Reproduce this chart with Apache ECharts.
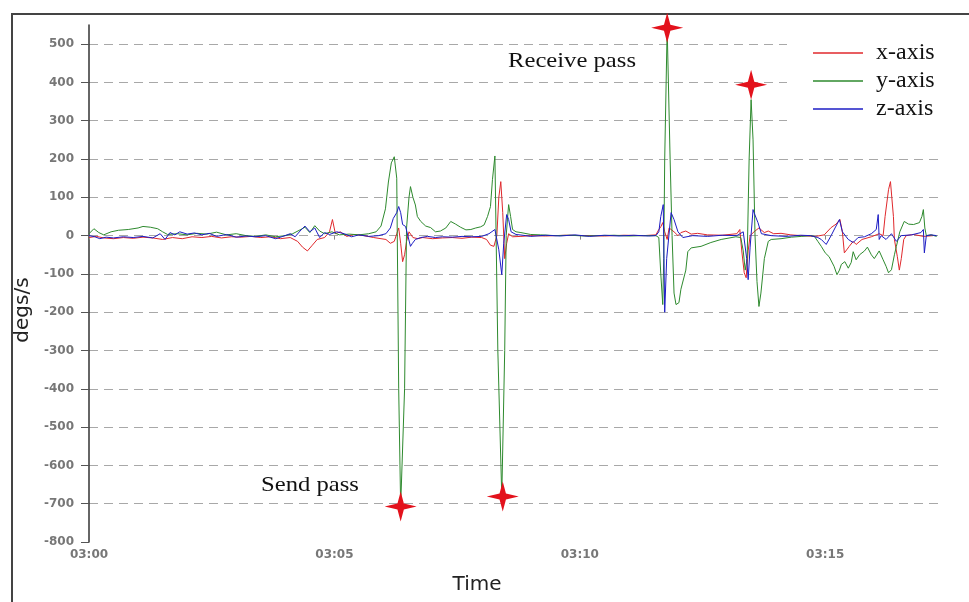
<!DOCTYPE html>
<html>
<head>
<meta charset="utf-8">
<script src="https://cdn.jsdelivr.net/npm/echarts@6/dist/echarts.min.js"></script>
<style>
html,body{margin:0;padding:0;background:#fff;}
#chart{width:969px;height:602px;}
</style>
</head>
<body>
<div id="chart"></div>
<script>
// Time in minutes after 03:00, value in degs/s
var seriesNames = ['x-axis', 'y-axis', 'z-axis'];
var xTickValues = [0, 5, 10, 15];
var xTickLabels = ['03:00', '03:05', '03:10', '03:15'];
var yTickValues = [-800, -700, -600, -500, -400, -300, -200, -100, 0, 100, 200, 300, 400, 500];

var xAxisData = [
  [0,-5],[0.15,-2],[0.3,-6],[0.5,-8],[0.7,-5],[0.9,-7],[1.1,-4],[1.3,-6],[1.5,-10],[1.7,-5],[1.9,-8],[2.1,-3],[2.3,-5],[2.5,-2],[2.7,-6],[2.9,-3],[3.1,-4],[3.3,-2],[3.5,-5],[3.7,-3],[3.9,-8],[4.1,-5],[4.25,-15],[4.35,-30],[4.45,-40],[4.55,-25],[4.65,-10],[4.8,-5],[4.9,10],[4.96,42],[5.02,5],[5.12,10],[5.25,-2],[5.4,3],[5.6,0],[5.8,-5],[5.95,-8],[6.05,-10],[6.14,-20],[6.22,-15],[6.27,5],[6.31,20],[6.35,-20],[6.39,-68],[6.43,-50],[6.47,-15],[6.52,10],[6.6,-5],[6.7,-8],[6.8,-5],[7.0,-8],[7.2,-6],[7.4,-5],[7.6,-7],[7.8,-4],[8.0,-5],[8.1,-10],[8.18,-25],[8.25,-28],[8.31,0],[8.35,100],[8.39,141],[8.43,60],[8.47,-60],[8.51,-20],[8.55,5],[8.63,-3],[8.8,-2],[9.0,0],[9.3,-1],[9.7,1],[10.1,0],[10.5,-1],[10.9,1],[11.3,0],[11.55,2],[11.61,16],[11.65,23],[11.69,34],[11.73,10],[11.78,-10],[11.82,20],[11.86,23],[11.92,10],[12.0,0],[12.06,8],[12.16,12],[12.27,4],[12.4,6],[12.6,2],[12.9,1],[13.2,5],[13.26,16],[13.3,-40],[13.35,-97],[13.39,-110],[13.43,-40],[13.47,0],[13.55,10],[13.65,20],[13.69,16],[13.76,8],[13.84,12],[13.95,5],[14.1,6],[14.3,2],[14.5,0],[14.8,-2],[14.98,2],[15.12,21],[15.22,30],[15.3,42],[15.35,10],[15.39,-45],[15.45,-35],[15.49,-28],[15.57,-15],[15.63,-23],[15.75,-10],[15.94,-3],[16.1,5],[16.18,0],[16.22,50],[16.29,120],[16.33,141],[16.37,80],[16.39,50],[16.41,-10],[16.47,-55],[16.51,-90],[16.55,-60],[16.6,-10],[16.65,0],[16.8,3],[17.0,-2],[17.2,0]
];

var yAxisData = [
  [0,5],[0.1,18],[0.2,8],[0.3,2],[0.45,10],[0.6,14],[0.8,16],[1.0,20],[1.1,24],[1.25,22],[1.4,18],[1.5,10],[1.6,3],[1.8,5],[2.0,2],[2.2,6],[2.4,4],[2.6,9],[2.8,2],[3.0,5],[3.2,0],[3.4,-2],[3.6,2],[3.8,-3],[4.0,0],[4.15,5],[4.3,15],[4.4,22],[4.5,8],[4.6,26],[4.7,12],[4.8,5],[4.95,10],[5.1,2],[5.3,4],[5.5,2],[5.7,5],[5.85,10],[5.95,25],[6.04,70],[6.1,140],[6.16,190],[6.22,206],[6.27,150],[6.31,-400],[6.35,-707],[6.43,-400],[6.47,20],[6.52,100],[6.55,128],[6.6,100],[6.65,80],[6.69,50],[6.76,37],[6.86,25],[6.96,21],[7.06,10],[7.16,12],[7.27,20],[7.37,37],[7.47,30],[7.57,22],[7.68,15],[7.78,16],[7.88,20],[7.98,23],[8.05,28],[8.12,50],[8.18,76],[8.22,146],[8.27,208],[8.33,-300],[8.41,-681],[8.47,-300],[8.5,0],[8.55,81],[8.59,50],[8.63,16],[8.7,10],[8.8,8],[9.0,3],[9.2,2],[9.5,0],[9.8,1],[10.1,-1],[10.4,0],[10.7,1],[11.0,-1],[11.3,0],[11.55,0],[11.61,-5],[11.65,-100],[11.69,-180],[11.71,-60],[11.73,200],[11.78,543],[11.84,200],[11.88,0],[11.92,-150],[11.96,-180],[12.02,-175],[12.06,-140],[12.16,-90],[12.2,-42],[12.27,-32],[12.47,-28],[12.67,-18],[12.88,-10],[13.18,-3],[13.28,-5],[13.33,-40],[13.37,-90],[13.41,-60],[13.45,200],[13.49,355],[13.53,250],[13.57,0],[13.61,-120],[13.65,-185],[13.69,-150],[13.76,-60],[13.84,-15],[13.9,-10],[14.1,-8],[14.31,-4],[14.51,-2],[14.7,0],[14.78,-2],[14.85,-15],[14.92,-28],[15.0,-45],[15.08,-55],[15.18,-80],[15.24,-102],[15.29,-90],[15.33,-75],[15.4,-68],[15.47,-85],[15.53,-70],[15.57,-42],[15.63,-63],[15.7,-50],[15.73,-55],[15.8,-40],[15.86,-30],[15.94,-50],[16.0,-60],[16.1,-40],[16.18,-63],[16.24,-80],[16.29,-97],[16.35,-89],[16.41,-50],[16.45,-28],[16.52,10],[16.61,37],[16.7,30],[16.8,29],[16.92,34],[16.97,50],[17.0,68],[17.03,20],[17.06,0],[17.16,2],[17.27,-2]
];

var zAxisData = [
  [0,0],[0.12,-3],[0.22,-8],[0.35,-4],[0.5,-6],[0.7,-3],[0.9,-5],[1.1,-2],[1.3,-6],[1.45,5],[1.55,-10],[1.65,8],[1.75,2],[1.85,10],[2.0,4],[2.15,7],[2.3,2],[2.45,6],[2.6,-2],[2.8,3],[3.0,-4],[3.2,-1],[3.4,-3],[3.6,0],[3.8,-8],[3.95,-2],[4.1,5],[4.2,-3],[4.3,12],[4.4,25],[4.5,10],[4.6,20],[4.7,-5],[4.8,8],[4.9,3],[5.05,10],[5.2,5],[5.35,-3],[5.5,2],[5.7,-2],[5.9,0],[6.05,5],[6.14,20],[6.2,45],[6.27,60],[6.31,76],[6.35,60],[6.39,29],[6.45,24],[6.49,23],[6.55,-28],[6.59,-20],[6.65,-10],[6.76,-5],[6.9,-2],[7.06,-5],[7.2,-3],[7.4,-4],[7.6,-2],[7.8,-3],[8.0,-2],[8.15,5],[8.27,16],[8.35,-37],[8.41,-102],[8.45,-20],[8.51,55],[8.55,42],[8.6,10],[8.7,3],[8.9,0],[9.0,-2],[9.3,1],[9.6,-1],[9.9,2],[10.2,-2],[10.5,1],[10.8,-1],[11.1,1],[11.4,-1],[11.55,0],[11.61,10],[11.65,50],[11.7,81],[11.73,-200],[11.77,-60],[11.86,60],[11.92,42],[12.0,10],[12.1,-5],[12.3,0],[12.6,-2],[12.9,1],[13.2,0],[13.33,10],[13.4,-60],[13.43,-115],[13.47,-30],[13.53,68],[13.55,60],[13.63,34],[13.7,5],[13.9,0],[14.2,-2],[14.5,1],[14.7,0],[14.85,-5],[14.92,-10],[15.02,-23],[15.12,0],[15.2,20],[15.29,42],[15.35,10],[15.47,-10],[15.57,-18],[15.67,-5],[15.8,-3],[15.94,5],[16.04,16],[16.08,55],[16.1,-10],[16.14,0],[16.24,-10],[16.35,5],[16.45,-15],[16.55,0],[16.76,2],[16.95,8],[17.0,16],[17.02,-45],[17.06,0],[17.16,2],[17.27,0]
];

var starPoints = [[6.35,-707],[8.43,-681],[11.78,543],[13.49,394]];
var annotations = ['Receive pass', 'Send pass'];

var colors = ['#e0282c', '#2e8a2e', '#1c1cc4'];
var starPath = 'path://M0,-10 L2,-2 L10,0 L2,2 L0,10 L-2,2 L-10,0 L-2,-2 Z';

var chart = echarts.init(document.getElementById('chart'), null, {renderer: 'canvas'});

var tickFont = {color: '#777', fontFamily: 'DejaVu Sans', fontWeight: 'bold', fontSize: 12};

var option = {
  animation: false,
  backgroundColor: '#fff',
  color: colors,
  grid: {left: 89, right: 26, top: 25, bottom: 60, containLabel: false},
  legend: {
    orient: 'vertical',
    left: 787, top: 25,
    padding: [14, 6, 8, 26],
    backgroundColor: '#fff',
    icon: 'rect',
    itemWidth: 50, itemHeight: 1.5, itemGap: 0,
    textStyle: {fontFamily: 'Liberation Serif', fontSize: 24, color: '#111', lineHeight: 28, padding: [0, 0, 0, 8]},
    data: seriesNames
  },
  xAxis: {
    type: 'value', min: 0, max: 17.4, interval: 5,
    axisLine: {show: false},
    axisTick: {show: true, length: 4, inside: false, customValues: xTickValues, lineStyle: {color: '#888'}},
    axisLabel: Object.assign({margin: 7, customValues: xTickValues, formatter: function (v) {
      var i = xTickValues.indexOf(v); return i >= 0 ? xTickLabels[i] : '';
    }}, tickFont),
    splitLine: {show: false}
  },
  yAxis: {
    type: 'value', min: -800, max: 550, interval: 100,
    axisLine: {show: true, lineStyle: {color: '#333', width: 1.5}},
    axisTick: {show: true, length: 8, customValues: yTickValues, lineStyle: {color: '#555'}},
    axisLabel: Object.assign({margin: 15, customValues: yTickValues}, tickFont),
    splitLine: {show: true, showMinLine: false, showMaxLine: true, lineStyle: {color: '#a8a8a8', type: [9, 6], width: 1}}
  },
  graphic: [
    {type: 'rect', shape: {x: 12, y: 14, width: 980, height: 620}, style: {fill: 'none', stroke: '#444', lineWidth: 2}, silent: true, z: 0},
    {type: 'text', x: 23, y: 310, rotation: Math.PI / 2, style: {text: 'degs/s', fontFamily: 'DejaVu Sans', fontSize: 20, fill: '#222', align: 'center', verticalAlign: 'middle'}},
    {type: 'text', x: 477, y: 585, style: {text: 'Time', fontFamily: 'DejaVu Sans', fontSize: 20, fill: '#222', align: 'center', verticalAlign: 'middle'}},
    {type: 'text', x: 572, y: 61, scaleX: 1.12, style: {text: annotations[0], fontFamily: 'Liberation Serif', fontSize: 22, fill: '#111', align: 'center', verticalAlign: 'middle'}},
    {type: 'text', x: 310, y: 485, scaleX: 1.12, style: {text: annotations[1], fontFamily: 'Liberation Serif', fontSize: 22, fill: '#111', align: 'center', verticalAlign: 'middle'}}
  ],
  series: [
    {name: seriesNames[0], type: 'line', data: xAxisData, symbol: 'none', lineStyle: {width: 1, color: colors[0]}, z: 2},
    {name: seriesNames[1], type: 'line', data: yAxisData, symbol: 'none', lineStyle: {width: 1, color: colors[1]}, z: 2,
      markPoint: {
        symbol: starPath, symbolSize: [32, 30], silent: true,
        itemStyle: {color: '#e3121c'}, label: {show: false},
        data: starPoints.map(function (p) { return {coord: p}; })
      }
    },
    {name: seriesNames[2], type: 'line', data: zAxisData, symbol: 'none', lineStyle: {width: 1, color: colors[2]}, z: 2}
  ]
};
chart.setOption(option);
</script>
</body>
</html>
